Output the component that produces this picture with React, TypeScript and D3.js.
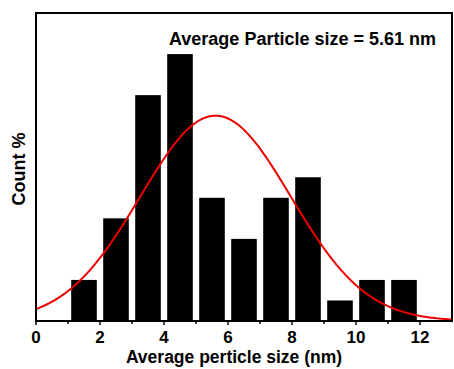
import React from "react";
import * as d3 from "d3";

// histogram bins (left edge of bin, count)
const binStarts = [1, 2, 3, 4, 5, 6, 7, 8, 9, 10, 11];
const counts = [2, 5, 11, 13, 6, 4, 6, 7, 1, 2, 2];
const xTicks = [0, 2, 4, 6, 8, 10, 12];
const minorTicks = [1, 3, 5, 7, 9, 11];
const fitMean = 5.61;
const fitSigma = 2.35;
const fitAmp = 10;
const fitSamples = d3.range(0, 13.001, 0.05);

const W = 454;
const H = 369;

const App: React.FC = () => {
  const svgRef = React.useRef<SVGSVGElement>(null);

  React.useEffect(() => {
    if (!svgRef.current) return;
    const svg = d3.select(svgRef.current);
    svg.selectAll("*").remove();

    const margin = { top: 13, right: 2, bottom: 48, left: 36 };
    const innerW = W - margin.left - margin.right;
    const innerH = H - margin.top - margin.bottom;
    const font = "'Liberation Sans', Arial, sans-serif";

    const x = d3.scaleLinear().domain([0, 13]).range([0, innerW]);
    const y = d3.scaleLinear().domain([0, 15]).range([innerH, 0]);

    const g = svg.append("g").attr("transform", `translate(${margin.left},${margin.top})`);

    // bars
    g.selectAll("rect.bar")
      .data(binStarts)
      .enter()
      .append("rect")
      .attr("class", "bar")
      .attr("x", (d) => x(d + 0.1))
      .attr("width", (d) => x(d + 0.9) - x(d + 0.1))
      .attr("y", (_, i) => y(counts[i]))
      .attr("height", (_, i) => innerH - y(counts[i]))
      .attr("fill", "#000");

    // gaussian fit
    const line = d3
      .line<number>()
      .x((d) => x(d))
      .y((d) => y(fitAmp * Math.exp(-((d - fitMean) ** 2) / (2 * fitSigma * fitSigma))));
    g.append("path")
      .datum(fitSamples)
      .attr("fill", "none")
      .attr("stroke", "#ee0000")
      .attr("stroke-width", 2)
      .attr("d", line);

    // frame
    g.append("rect")
      .attr("x", 0)
      .attr("y", 0)
      .attr("width", innerW)
      .attr("height", innerH)
      .attr("fill", "none")
      .attr("stroke", "#000")
      .attr("stroke-width", 2);

    // x ticks
    const ax = g.append("g").attr("transform", `translate(0,${innerH})`);
    ax.selectAll("line.major")
      .data(xTicks)
      .enter()
      .append("line")
      .attr("x1", (d) => x(d))
      .attr("x2", (d) => x(d))
      .attr("y1", 0)
      .attr("y2", 4)
      .attr("stroke", "#000")
      .attr("stroke-width", 1.5);
    ax.selectAll("line.minor")
      .data(minorTicks)
      .enter()
      .append("line")
      .attr("x1", (d) => x(d))
      .attr("x2", (d) => x(d))
      .attr("y1", 0)
      .attr("y2", 3)
      .attr("stroke", "#000")
      .attr("stroke-width", 1.5);
    ax.selectAll("text")
      .data(xTicks)
      .enter()
      .append("text")
      .attr("x", (d) => x(d))
      .attr("y", 21.5)
      .attr("text-anchor", "middle")
      .style("font-family", font)
      .style("font-weight", "bold")
      .style("font-size", "17px")
      .text((d) => d);

    // axis titles
    svg.append("text")
      .attr("x", 234)
      .attr("y", 362.5)
      .attr("text-anchor", "middle")
      .style("font-family", font)
      .style("font-weight", "bold")
      .style("font-size", "17.5px")
      .text("Average perticle size (nm)");

    svg.append("text")
      .attr("transform", "translate(25,169) rotate(-90)")
      .attr("text-anchor", "middle")
      .style("font-family", font)
      .style("font-weight", "bold")
      .style("font-size", "18px")
      .text("Count %");

    svg.append("text")
      .attr("x", 436)
      .attr("y", 45)
      .attr("text-anchor", "end")
      .style("font-family", font)
      .style("font-weight", "bold")
      .style("font-size", "18px")
      .text("Average Particle size = 5.61 nm");
  }, []);

  return (
    <svg
      ref={svgRef}
      width={W}
      height={H}
      style={{ position: "absolute", left: 0, top: 0, background: "#fff" }}
    />
  );
};

export default App;
